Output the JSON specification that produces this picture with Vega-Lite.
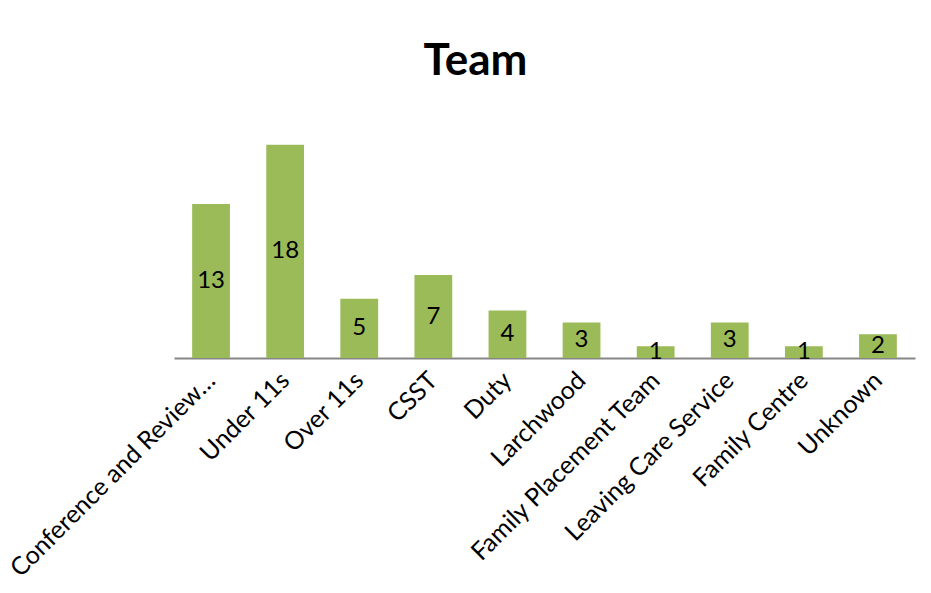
{
  "$schema": "https://vega.github.io/schema/vega-lite/v6.json",
  "width": 741,
  "height": 237,
  "autosize": "none",
  "padding": {"left": 174, "top": 121, "right": 16, "bottom": 235},
  "background": "white",
  "title": {
    "text": "Team",
    "font": "Lato",
    "fontSize": 44,
    "fontWeight": "bold",
    "color": "black",
    "anchor": "middle",
    "frame": "group",
    "dx": -69,
    "offset": 37
  },
  "data": {
    "values": [
      {"team": "Conference and Review…", "count": 13},
      {"team": "Under 11s", "count": 18},
      {"team": "Over 11s", "count": 5},
      {"team": "CSST", "count": 7},
      {"team": "Duty", "count": 4},
      {"team": "Larchwood", "count": 3},
      {"team": "Family Placement Team", "count": 1},
      {"team": "Leaving Care Service", "count": 3},
      {"team": "Family Centre", "count": 1},
      {"team": "Unknown", "count": 2}
    ]
  },
  "config": {"view": {"stroke": null}},
  "encoding": {
    "x": {
      "field": "team",
      "type": "nominal",
      "sort": null,
      "scale": {"paddingInner": 0, "paddingOuter": 0},
      "axis": {
        "title": null,
        "labelAngle": -45,
        "labelAlign": "right",
        "labelBaseline": "middle",
        "labelFont": "Lato",
        "labelFontSize": 25,
        "labelColor": "black",
        "labelPadding": 18,
        "labelLimit": 400,
        "ticks": false,
        "domainColor": "#868686",
        "domainWidth": 2,
        "grid": false
      }
    }
  },
  "layer": [
    {
      "mark": {"type": "bar", "color": "#9BBB59", "width": {"band": 0.51}},
      "encoding": {
        "y": {"field": "count", "type": "quantitative", "scale": {"domain": [0, 20]}, "axis": null}
      }
    },
    {
      "mark": {"type": "text", "font": "Lato", "fontSize": 24, "color": "black", "baseline": "middle"},
      "encoding": {
        "y": {"field": "count", "type": "quantitative", "scale": {"domain": [0, 40]}, "axis": null},
        "text": {"field": "count", "type": "quantitative"}
      }
    }
  ],
  "resolve": {"scale": {"y": "independent"}}
}
